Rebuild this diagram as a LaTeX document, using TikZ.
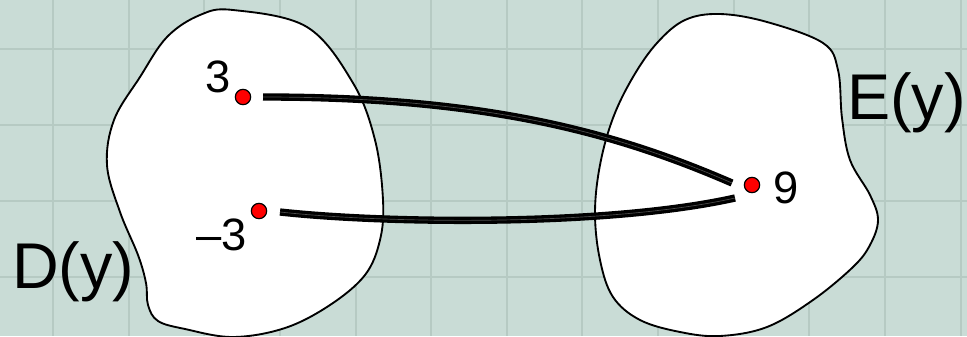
\documentclass[tikz,border=0pt]{standalone}
\usepackage{fontspec}
\setmainfont{Liberation Sans}
\begin{document}
\begin{tikzpicture}[x=0.75pt,y=-0.75pt]
\definecolor{bg}{HTML}{C9DCD6}
\definecolor{gridc}{HTML}{B6CAC3}
\tikzset{
 blob/.style={draw=black, line width=1.4pt, fill=white},
 dot/.style={circle, draw=black, line width=0.9pt, fill=red, minimum size=11.5pt, inner sep=0pt, outer sep=0pt},
 num/.style={font=\fontsize{34}{34}\selectfont, inner sep=0pt, anchor=base},
 setlabel/.style={font=\fontsize{48.5}{48.5}\selectfont, inner sep=0pt, anchor=base west},
 link/.style={line width=2.5pt, double=black!70, double distance=0.5pt},
 gridline/.style={draw=gridc, line width=1.4pt}
}
\fill[bg] (0,0) rectangle (967,336);
\useasboundingbox (0,0) rectangle (967,336);
\foreach \x in {53,129,204,280,356,431,507,582,658,734,809,885,961} \draw[gridline] (\x,0) -- (\x,336);
\foreach \y in {49,125,201,277} \draw[gridline] (0,\y) -- (967,\y);
% sets
\draw[blob] plot[smooth cycle, tension=0.6] coordinates {(233,10) (307,27) (353,83) (375,140) (383,200) (380,240) (365,275) (330,305) (285,328) (233,337) (185,329) (158,321) (148,305) (146,283) (138,255) (120,212) (107,165) (114,120) (140,77) (167,37) (200,15)};
\draw[blob] plot[smooth cycle, tension=0.6] coordinates {(720,14) (767,22) (823,43) (838,70) (842,118) (850,160) (870,195) (878,220) (870,245) (853,267) (813,300) (767,327) (720,336) (680,332) (640,320) (613,297) (600,260) (595,213) (600,165) (613,118) (633,77) (657,43) (685,20)};
% points
\node[dot] (p3) at (243,97) {};
\node[dot] (pm3) at (259,211) {};
\node[dot] (p9) at (752,185) {};
\node[num] (l3) at (218,92) {3};
\node[num] (lm3) at (222,250) {–3};
\node[num] (l9) at (786,203) {9};
\node[setlabel] (D) at (12,288) {D(y)};
\node[setlabel] (E) at (847,119) {E(y)};
% mapping arrows
\path (p3) ++(20,0) coordinate (a1);
\path (p9) ++(-20,-2) coordinate (a2);
\path (pm3) ++(21,1) coordinate (b1);
\path (p9) ++(-17,13) coordinate (b2);
\draw[link] (a1) .. controls (480,97) and (610,130) .. (a2);
\draw[link] (b1) .. controls (390,224) and (610,226) .. (b2);
\end{tikzpicture}
\end{document}
